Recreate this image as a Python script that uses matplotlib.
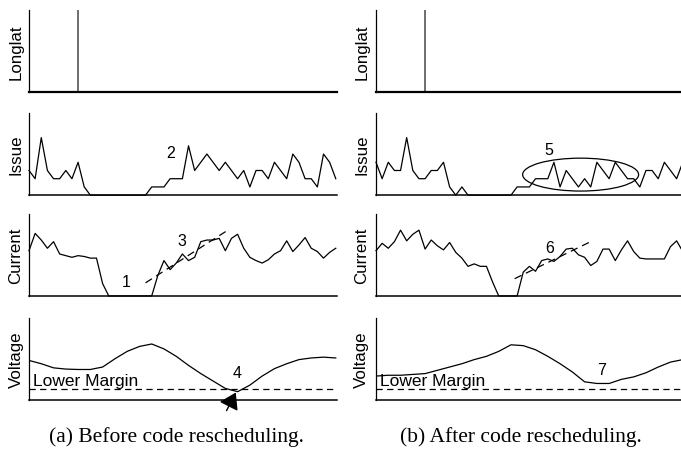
import matplotlib
matplotlib.use("Agg")
import matplotlib.pyplot as plt
from matplotlib.patches import Ellipse, FancyArrowPatch

plt.rcParams['font.family'] = ['Liberation Sans', 'DejaVu Sans']

# ---- data (x = sample index, y = 0..10 panel units) ----
idx = list(range(51))

longlat_left = [8]    # sample with a long-latency event
longlat_right = [8]

issue_left = [3, 2, 7, 3, 2, 2, 3, 2, 4, 1, 0, 0, 0, 0, 0, 0, 0, 0, 0, 0,
              1, 1, 1, 2, 2, 2, 6, 3, 4, 5, 4, 3, 4, 3, 2, 3, 1, 3, 3, 2,
              4, 3, 2, 5, 4, 2, 2, 1, 5, 4, 2]
issue_right = [4, 2, 4, 3, 3, 7, 3, 2, 2, 3, 3, 4, 1, 0, 1, 0, 0, 0, 0, 0,
               0, 0, 0, 1, 1, 1, 2, 2, 2, 4, 1, 3, 2, 1, 2, 1, 4, 3, 2, 4,
               3, 2, 2, 1, 3, 3, 2, 4, 3, 2, 4]

current_left = [5.5, 7.6, 6.8, 5.8, 6.6, 5.1, 4.9, 4.7, 4.9, 4.8, 4.6, 4.6,
                1.5, 0, 0, 0, 0, 0, 0, 0, 0, 2.5, 4.3, 3.2, 4.0, 5.1, 4.3,
                4.7, 6.6, 6.8, 6.8, 7.0, 5.5, 7.0, 7.5, 5.8, 4.7, 4.3, 4.0,
                4.4, 5.1, 5.5, 6.7, 5.4, 6.2, 7.1, 5.8, 5.4, 4.6, 5.3, 5.8]
current_right = [5.5, 6.4, 5.8, 6.6, 8.0, 6.7, 7.5, 8.0, 5.7, 6.8, 6.1, 5.6,
                 6.5, 5.3, 4.6, 3.6, 3.9, 3.6, 3.6, 1.7, 0, 0, 0, 0, 2.9,
                 3.6, 3.0, 4.3, 4.5, 4.2, 4.8, 5.7, 5.8, 5.0, 4.7, 3.7, 4.2,
                 5.7, 5.7, 4.3, 5.6, 6.7, 5.4, 4.6, 4.5, 4.5, 4.5, 4.5, 6.0,
                 6.7, 5.4]

volt_idx = [0, 2, 4, 6, 8, 10, 12, 14, 16, 18, 20, 22, 24, 26, 28, 30, 32,
            34, 36, 38, 40, 42, 44, 46, 48, 50]
voltage_left = [4.8, 4.4, 3.9, 3.75, 3.7, 3.7, 4.0, 5.0, 5.9, 6.5, 6.8, 6.2,
                5.3, 4.2, 3.2, 2.3, 1.4, 1.0, 1.8, 2.9, 3.8, 4.4, 4.9, 5.1,
                5.2, 5.1]
voltage_right = [2.9, 3.0, 3.0, 3.1, 3.2, 3.6, 4.0, 4.4, 4.9, 5.3, 5.9, 6.7,
                 6.6, 6.1, 5.3, 4.4, 3.4, 2.2, 2.0, 2.0, 2.5, 2.8, 3.3, 4.0,
                 4.6, 4.9]
lower_margin = 1.3

# dashed trend lines on the current panels (start, end)
trend_left = [(19.0, 1.6), (32.2, 7.9)]
trend_right = [(22.6, 2.1), (34.7, 6.5)]

labels = ['Longlat', 'Issue', 'Current', 'Voltage']
captions = ['(a) Before code rescheduling.', '(b) After code rescheduling.']

# ---- layout ----
fig = plt.figure(figsize=(6.81, 4.52), dpi=100)
col_x = [29 / 681, 376 / 681]
col_w = 308 / 681
row_b = [0.794, 0.566, 0.343, 0.113]
row_h = 0.182
label_x = [-0.018, -0.022]

cols = [
    dict(longlat=longlat_left, issue=issue_left, current=current_left,
         voltage=voltage_left, trend=trend_left),
    dict(longlat=longlat_right, issue=issue_right, current=current_right,
         voltage=voltage_right, trend=trend_right),
]

lw = 0.9
axes = []
for c, d in enumerate(cols):
    col_axes = []
    for r in range(4):
        ax = fig.add_axes([col_x[c], row_b[r], col_w, row_h])
        ax.set_xlim(0, 50.2)
        ax.set_ylim(0, 10)
        for s in ['top', 'right']:
            ax.spines[s].set_visible(False)
        ax.spines['left'].set_linewidth(0.9)
        ax.spines['bottom'].set_linewidth(1.1)
        ax.set_xticks([])
        ax.set_yticks([])
        ax.set_ylabel(labels[r], fontsize=12.2)
        ax.yaxis.set_label_coords(label_x[c], 0.5)
        col_axes.append(ax)
    axes.append(col_axes)

    a_ll, a_is, a_cu, a_vo = col_axes
    a_ll.vlines(d['longlat'], 0, 10, color='#555555', lw=1.2)
    a_ll.spines['bottom'].set_linewidth(1.6)
    a_is.plot(idx, d['issue'], color='black', lw=lw, clip_on=False)
    a_cu.plot(idx, d['current'], color='black', lw=lw, clip_on=False)
    (x0, y0), (x1, y1) = d['trend']
    a_cu.plot([x0, x1], [y0, y1], color='black', lw=0.9, dashes=(6, 4))
    a_vo.plot(volt_idx, d['voltage'], color='black', lw=lw)
    a_vo.axhline(lower_margin, color='black', lw=0.9, dashes=(5, 3.5))
    a_vo.text(0.7, 1.45, 'Lower Margin', fontsize=12.5, va='bottom', ha='left')

# annotations, left column
axes[0][1].text(23.1, 5.2, '2', fontsize=11.5, ha='center', va='center')
axes[0][2].text(15.9, 1.7, '1', fontsize=11.5, ha='center', va='center')
axes[0][2].text(24.9, 6.8, '3', fontsize=11.5, ha='center', va='center')
axes[0][3].text(34.0, 3.35, '4', fontsize=11.5, ha='center', va='center')
# arrow pointing at the dip below the lower margin
arrow = FancyArrowPatch((32.2, -1.3), (33.7, 0.9),
                        arrowstyle='-|>,head_length=0.7,head_width=0.45',
                        mutation_scale=14, color='black', lw=1,
                        shrinkA=0, shrinkB=0, clip_on=False)
axes[0][3].add_patch(arrow)

# annotations, right column
axes[1][1].text(28.2, 5.6, '5', fontsize=11.5, ha='center', va='center')
axes[1][1].add_patch(Ellipse((33.35, 2.5), 18.9, 4.0, fill=False,
                             edgecolor='black', lw=0.9))
axes[1][2].text(28.3, 5.9, '6', fontsize=11.5, ha='center', va='center')
axes[1][3].text(36.8, 3.75, '7', fontsize=11.5, ha='center', va='center')

# sub-captions
fig.text(176 / 681, 0.033, captions[0], family=['Liberation Serif'],
         fontsize=15.5, ha='center', va='center')
fig.text(521 / 681, 0.033, captions[1], family=['Liberation Serif'],
         fontsize=15.5, ha='center', va='center')

fig.savefig('out.png', dpi=100)
